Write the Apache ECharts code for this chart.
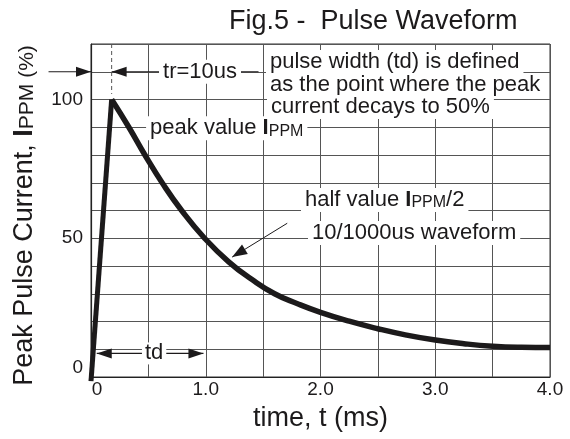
<!DOCTYPE html>
<html><head><meta charset="utf-8">
<script src="https://cdn.jsdelivr.net/npm/echarts@6/dist/echarts.min.js"></script>
<style>html,body{margin:0;padding:0;background:#fff}#c{width:570px;height:439px}</style>
</head><body><div id="c"></div>
<script>
// ---- data ----
const riseT = [0, 0.18];
const riseV = [-1.5, 100];
const decayT = [0.18, 0.33, 0.47, 0.62, 0.79, 0.99, 1.2, 1.4, 1.6, 1.8, 2.0, 2.25, 2.5, 2.75, 3.0, 3.25, 3.5, 3.75, 4.0];
const decayV = [100, 90, 80, 70, 60, 50, 41.5, 35.2, 30, 26.4, 23.3, 20.1, 17.4, 15.1, 13.3, 12.0, 11.1, 10.7, 10.6];
const xTickValues = [0, 1, 2, 3, 4];
const xTickText = ['0', '1.0', '2.0', '3.0', '4.0'];
const yTickValues = [0, 50, 100];
const yTickText = ['0', '50', '100'];

const FONT = "'Liberation Sans', Arial, Helvetica, sans-serif";
const INK = '#1c1a1b';
const chart = echarts.init(document.getElementById('c'));

chart.setOption({
  animation: false,
  backgroundColor: '#fff',
  textStyle: { fontFamily: FONT, color: INK },
  title: {
    text: 'Fig.5 -  Pulse Waveform', left: 224, top: 3,
    textStyle: { fontSize: 27, fontWeight: 'normal', color: INK, fontFamily: FONT }
  },
  grid: { left: 91, right: 20, top: 44, bottom: 62, show: true, borderColor: '#333', borderWidth: 1 },
  xAxis: {
    type: 'value', min: 0, max: 4, interval: 0.5,
    name: 'time, t (ms)', nameLocation: 'middle', nameGap: 28,
    nameTextStyle: { fontSize: 27, color: INK, fontFamily: FONT },
    axisLine: { show: true, onZero: false, lineStyle: { color: '#222', width: 1.2 } },
    axisTick: { show: false },
    splitLine: { show: true, lineStyle: { color: '#555', width: 1 } },
    axisLabel: {
      fontSize: 19, color: INK, margin: 3, fontFamily: FONT,
      formatter: v => { const i = xTickValues.indexOf(Math.round(v * 100) / 100); return i < 0 ? '' : (i === 0 ? '{z|' + xTickText[0] + '}' : xTickText[i]); },
      rich: { z: { fontSize: 19, color: INK, fontFamily: FONT, padding: [0, 0, 0, 12] } }
    }
  },
  yAxis: {
    type: 'value', min: 0, max: 120, interval: 10,
    name: 'Peak Pulse Current, {b|I}{s|PPM (%)}', nameLocation: 'middle', nameGap: 53, nameRotate: 90,
    nameTextStyle: {
      fontSize: 27, color: INK, fontFamily: FONT, padding: [0, 10, 0, 0],
      rich: { b: { fontSize: 27, fontWeight: 'bold', color: INK, fontFamily: FONT, verticalAlign: 'bottom' },
              s: { fontSize: 21, color: INK, fontFamily: FONT, verticalAlign: 'bottom' } }
    },
    axisLine: { show: true, onZero: false, lineStyle: { color: '#222', width: 1.2 } },
    axisTick: { show: false },
    splitLine: { show: true, lineStyle: { color: '#555', width: 1 } },
    axisLabel: {
      fontSize: 19, color: INK, margin: 8, fontFamily: FONT,
      formatter: v => { const i = yTickValues.indexOf(Math.round(v)); return i < 0 ? '' : (i === 0 ? '{z|' + yTickText[0] + '}' : yTickText[i]); },
      rich: { z: { fontSize: 19, color: INK, fontFamily: FONT, padding: [0, 0, 18, 0] } }
    }
  },
  series: [
    { type: 'line', data: riseT.map((t, i) => [t, riseV[i]]), showSymbol: false, clip: false,
      lineStyle: { color: INK, width: 5, join: 'round' }, z: 5 },
    { type: 'line', data: decayT.map((t, i) => [t, decayV[i]]), showSymbol: false, smooth: 0.5,
      lineStyle: { color: INK, width: 5.5, join: 'round' }, z: 5 }
  ]
});

// ---- annotations positioned through the chart's own scales ----
const P = (t, v) => chart.convertToPixel({ gridIndex: 0 }, [t, v]);
function head(tip, from, L, W) {
  const dx = tip[0] - from[0], dy = tip[1] - from[1];
  const d = Math.hypot(dx, dy), ux = dx / d, uy = dy / d;
  const bx = tip[0] - ux * L, by = tip[1] - uy * L;
  return { type: 'polygon', z: 20, shape: { points: [tip, [bx - uy * W, by + ux * W], [bx + uy * W, by - ux * W]] }, style: { fill: INK } };
}
function seg(a, b, w, dash) {
  return { type: 'line', z: 19, shape: { x1: a[0], y1: a[1], x2: b[0], y2: b[1] }, style: { stroke: dash ? '#555' : INK, lineWidth: w, lineDash: dash || null } };
}
function txt(x, y, text, align, extra) {
  return Object.assign({ type: 'text', z: 30, x: x, y: y,
    style: Object.assign({ text: text, fontSize: 22, fontFamily: FONT, fill: INK, align: align || 'left', verticalAlign: 'middle',
      backgroundColor: '#fff', padding: [1, 4, 1, 4],
      rich: { b: { fontSize: 22, fontWeight: 'bold', fill: INK, fontFamily: FONT, verticalAlign: 'bottom' },
              s: { fontSize: 16, fill: INK, fontFamily: FONT, verticalAlign: 'bottom' },
              n: { fontSize: 22, fill: INK, fontFamily: FONT, verticalAlign: 'bottom' } } }, extra || {}) });
}

const g = [];
// dashed marker at the peak time
g.push(seg(P(0.18, 120), P(0.18, 102), 1, [4, 3]));
// tr arrows
const trL0 = P(-0.37, 110), trL1 = P(0, 110);
g.push(seg(trL0, trL1, 1.2)); g.push(head(trL1, trL0, 15, 5));
const trR0 = P(1.46, 110), trR1 = P(0.18, 110);
g.push(seg(trR0, trR1, 1.2)); g.push(head(trR1, trR0, 15, 5));
const trC = P(0.95, 110);
g.push(txt(trC[0], trC[1], 'tr=10us', 'center'));
// td arrow
const td0 = P(0.05, 8.5), td1 = P(0.98, 8.5);
g.push(seg(td0, td1, 1.2)); g.push(head(td0, td1, 15, 5)); g.push(head(td1, td0, 15, 5));
const tdC = P(0.55, 8.5);
g.push(txt(tdC[0], tdC[1], 'td', 'center', { padding: [0, 3, 0, 3] }));
// half value arrow
const hv0 = P(1.71, 55.4), hv1 = P(1.23, 43.2);
g.push(seg(hv0, hv1, 1)); g.push(head(hv1, hv0, 15, 5.5));
// texts
g.push(txt(266, 62, 'pulse width (td) is defined'));
g.push(txt(266, 85, 'as the point where the peak'));
g.push(txt(267, 107, 'current decays to 50%'));
const pk = P(0.48, 90);
g.push(txt(pk[0], pk[1] + 1, '{n|peak value }{b|I}{s|PPM}'));
g.push(txt(301, 200, '{n|half value }{b|I}{s|PPM}{n|/2}'));
g.push(txt(308, 233, '10/1000us waveform'));

chart.setOption({ graphic: g });
</script>
</body></html>
